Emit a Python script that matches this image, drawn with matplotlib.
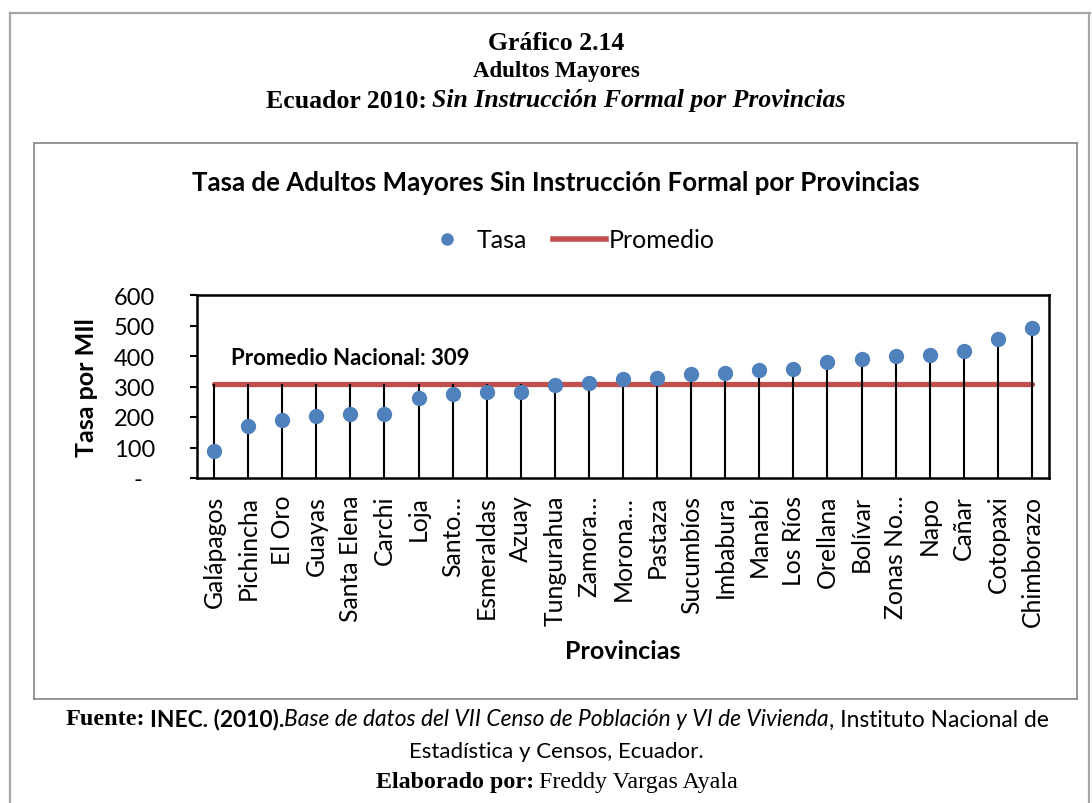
import matplotlib
matplotlib.use("Agg")
import matplotlib.pyplot as plt
from matplotlib.lines import Line2D
from matplotlib.transforms import ScaledTranslation

# ---------------- data ----------------
provincias = ["Galápagos", "Pichincha", "El Oro", "Guayas", "Santa Elena", "Carchi",
              "Loja", "Santo…", "Esmeraldas", "Azuay", "Tungurahua", "Zamora…",
              "Morona…", "Pastaza", "Sucumbíos", "Imbabura", "Manabí", "Los Ríos",
              "Orellana", "Bolívar", "Zonas No…", "Napo", "Cañar", "Cotopaxi", "Chimborazo"]
tasa = [87, 170, 189, 202, 209, 211, 263, 274, 281, 282, 304, 310, 325, 329, 342,
        345, 354, 356, 381, 390, 399, 403, 415, 456, 491]
promedio_valor = 309
yticks = [0, 100, 200, 300, 400, 500, 600]
ytick_labels = ["-", "100", "200", "300", "400", "500", "600"]

SANS = "Lato"
SERIF = "Liberation Serif"
W, H = 1092, 804

fig = plt.figure(figsize=(W / 100, H / 100), dpi=100)


def fx(x):
    return x / W


def fy(y):
    return 1 - y / H


# outer page frame
for xs, ys in [((10, 1090), (14, 14)), ((10, 10), (14, 804)), ((1089, 1089), (14, 804))]:
    fig.add_artist(Line2D([fx(v) for v in xs], [fy(v) for v in ys], color="#a6a6a6", lw=1.6))
# inner chart frame
for xs, ys in [((34, 1077), (144, 144)), ((34, 1077), (700, 700)),
               ((34, 34), (144, 700)), ((1077, 1077), (144, 700))]:
    fig.add_artist(Line2D([fx(v) for v in xs], [fy(v) for v in ys], color="#8c8c8c", lw=1.3))

renderer = fig.canvas.get_renderer()


def draw_segments(y, segments, xc):
    """segments: list of (text, props, gap_before_px); centred on xc"""
    items = []
    for s, props, gap in segments:
        t = fig.text(0, fy(y), s, ha="left", va="center", **props)
        items.append((t, gap, t.get_window_extent(renderer).width))
    total = sum(w + g for _, g, w in items)
    x = xc - total / 2
    for t, gap, w in items:
        x += gap
        t.set_x(fx(x))
        x += w


# header
fig.text(fx(556), fy(43), "Gráfico 2.14", family=SERIF, weight="bold", fontsize=18.5,
         ha="center", va="center")
fig.text(fx(556), fy(72), "Adultos Mayores", family=SERIF, weight="bold", fontsize=16.5,
         ha="center", va="center")
draw_segments(101, [("Ecuador 2010:", dict(family=SERIF, weight="bold", fontsize=18.5), 0),
                    ("Sin Instrucción Formal por Provincias",
                     dict(family=SERIF, weight="bold", style="italic", fontsize=18.5), 5)],
              xc=556)

# chart title
fig.text(fx(556), fy(183), "Tasa de Adultos Mayores Sin Instrucción Formal por Provincias",
         family=SANS, weight="bold", fontsize=18.6, ha="center", va="center")

# axes
ax = fig.add_axes([fx(197), fy(479), (1049 - 197) / W, (479 - 296) / H])
x = list(range(len(provincias)))
tops = [max(v, promedio_valor) for v in tasa]
ax.vlines(x, 0, tops, color="black", lw=1.5, zorder=3)
ax.plot(x, [promedio_valor] * len(x), color="#C0504D", lw=3.8, solid_capstyle="round",
        zorder=2, label="Promedio")
ax.plot(x, tasa, "o", color="#4F81BD", ms=10, mec="#4F81BD", zorder=4, label="Tasa",
        linestyle="none")

ax.set_xlim(-0.5, len(x) - 0.5)
ax.set_ylim(0, 600)
ax.set_yticks(yticks)
ax.set_yticklabels(ytick_labels, family=SANS, fontsize=17)
ax.set_xticks(x)
ax.set_xticklabels(provincias, rotation=90, family=SANS, fontsize=17.8)
ax.tick_params(axis="y", direction="out", length=5, width=1.5, pad=25)
ax.tick_params(axis="x", length=0, pad=12)
for sp in ax.spines.values():
    sp.set_linewidth(1.8)
    sp.set_color("black")
# accounting-style dash for zero sits left of the digits column
zero_lbl = ax.get_yticklabels()[0]
zero_lbl.set_transform(zero_lbl.get_transform() + ScaledTranslation(-0.13, 0, fig.dpi_scale_trans))

ax.text(0.5, 395, "Promedio Nacional: 309", family=SANS, weight="bold", fontsize=16,
        ha="left", va="center")

fig.text(fx(87), fy(388), "Tasa por MIl", family=SANS, weight="bold", fontsize=18,
         rotation=90, ha="center", va="center")
fig.text(fx(623), fy(652), "Provincias", family=SANS, weight="bold", fontsize=18,
         ha="center", va="center")

handles = [Line2D([], [], marker="o", color="#4F81BD", ms=8, linestyle="none"),
           Line2D([], [], color="#C0504D", lw=4)]
fig.legend(handles, ["Tasa", "Promedio"], loc="center", bbox_to_anchor=(fx(568), fy(241)),
           ncol=2, frameon=False, prop=dict(family=SANS, size=18), handlelength=2.1,
           handletextpad=0.12, columnspacing=1.05)

# footer
draw_segments(720, [("Fuente:", dict(family=SERIF, weight="bold", fontsize=17.5), 0),
                    ("INEC. (2010).", dict(family=SANS, weight="bold", fontsize=16.4), 5),
                    ("Base de datos del VII Censo de Población y VI de Vivienda",
                     dict(family=SANS, style="italic", fontsize=16.4), 0),
                    (", Instituto Nacional de", dict(family=SANS, fontsize=16.4), 0)],
              xc=557)
fig.text(fx(556), fy(752), "Estadística y Censos, Ecuador.", family=SANS, fontsize=16,
         ha="center", va="center")
draw_segments(783, [("Elaborado por:", dict(family=SERIF, weight="bold", fontsize=17.3), 0),
                    ("Freddy Vargas Ayala", dict(family=SERIF, fontsize=17.3), 5)],
              xc=557)

fig.savefig("out.png", dpi=100)
